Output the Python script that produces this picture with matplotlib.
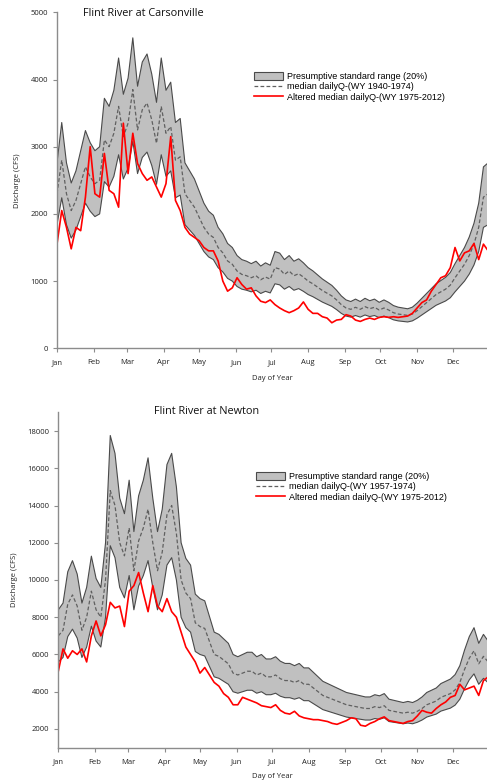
import numpy as np
import matplotlib.pyplot as plt
from matplotlib.patches import Patch
from matplotlib.lines import Line2D

plt.rcParams.update(
    {
        "font.family": ["Open Sans", "DejaVu Sans"],
        "xtick.labelsize": 5.5,
        "ytick.labelsize": 5.5,
    }
)

# --- data (values read every 4th day of year) ---
days = np.arange(1, 366, 4)

month_starts = [1, 32, 60, 91, 121, 152, 182, 213, 244, 274, 305, 335]
month_labels = ["Jan", "Feb", "Mar", "Apr", "May", "Jun",
                "Jul", "Aug", "Sep", "Oct", "Nov", "Dec"]

range_pct = 0.20

carson_median = [
    2300, 2800, 2300, 2050, 2200, 2450, 2700, 2550, 2450, 2500,
    3100, 3000, 3200, 3600, 3150, 3350, 3850, 3250, 3550, 3650,
    3400, 3050, 3600, 3200, 3300, 2800, 2850, 2300, 2200, 2100,
    1950, 1800, 1700, 1650, 1500, 1420, 1300, 1250, 1150, 1100,
    1080, 1050, 1080, 1020, 1060, 1030, 1200, 1180, 1100, 1150,
    1080, 1110, 1060, 1000, 960, 910, 860, 820, 780, 720,
    650, 600, 580, 610, 580, 620, 590, 610, 570, 600,
    570, 530, 510, 500, 490, 510, 560, 620, 680, 740,
    800, 840, 880, 940, 1050, 1150, 1250, 1380, 1550, 1800,
    2250, 2300,
]
carson_altered = [
    1550, 2050, 1800, 1480, 1800, 1750, 2250, 3000, 2300, 2250,
    2900, 2350, 2300, 2100, 3350, 2600, 3200, 2750, 2600, 2500,
    2550, 2400, 2250, 2450, 3150, 2200, 2050, 1800, 1700, 1650,
    1600, 1500, 1450, 1450, 1300, 1000, 850, 900, 1050, 950,
    880, 900, 780, 700, 680, 720, 650, 600, 560, 530,
    560, 600, 690, 580, 520, 520, 470, 450, 380, 420,
    430, 500, 480, 420, 400, 430, 450, 430, 460, 470,
    460, 470, 460, 470, 480, 520, 600, 680, 720, 850,
    950, 1050, 1080, 1200, 1500, 1300, 1420, 1450, 1560, 1320,
    1550, 1450,
]

newton_median = [
    7000, 7300, 8700, 9200, 8600, 7300, 8000, 9400, 8400, 8000,
    10000, 14800, 14000, 12000, 11300, 12800, 10500, 12100, 12800, 13800,
    12000, 10500, 11500, 13500, 14000, 12500, 10000, 9300, 9000, 7700,
    7500, 7400, 6700, 6000, 5900, 5700, 5500, 5000, 4900, 5000,
    5100, 5100, 4900, 5000, 4800, 4800, 4900, 4700, 4600, 4600,
    4500, 4600, 4400, 4400, 4200, 4000, 3800, 3700, 3600, 3500,
    3400, 3300, 3250, 3200, 3150, 3100, 3100, 3200, 3150, 3250,
    3000, 2950, 2900, 2850, 2900, 2850, 2950, 3100, 3300, 3400,
    3500, 3700, 3800, 3900, 4100, 4500, 5200, 5800, 6200, 5500,
    5900, 5600,
]
newton_altered = [
    5100, 6300, 5800, 6200, 6000, 6300, 5600, 7000, 7800, 7000,
    7600, 8800, 8500, 8600, 7500, 9400, 9700, 10400, 9300, 8300,
    9700, 8600, 8300, 9000, 8300, 8000, 7200, 6400, 6000, 5600,
    5000, 5300, 4900, 4500, 4300, 3900, 3700, 3300, 3300, 3700,
    3600, 3500, 3400, 3250, 3200, 3150, 3300, 3000, 2850, 2800,
    2950, 2700, 2600, 2550, 2500, 2500, 2450, 2400, 2300, 2250,
    2350, 2450, 2600, 2550, 2200, 2150, 2300, 2400, 2550, 2650,
    2450, 2400, 2350, 2300, 2400, 2450, 2700, 3000, 2900, 2850,
    3100, 3300, 3450, 3700, 3800, 4400, 4100, 4200, 4300, 3800,
    4600, 4800,
]

W, H = 487, 783
fig = plt.figure(figsize=(W / 100, H / 100), dpi=100)

band_face = "#c0c0c0"
band_edge = "#4a4a4a"
spine_col = "#8c8c8c"


def panel(rect, median, altered, period, ylim, yticks, title, title_xy, label_y,
          legend_xy):
    ax = fig.add_axes(rect)
    med = np.array(median, dtype=float)
    lo = med * (1 - range_pct)
    hi = med * (1 + range_pct)
    ax.fill_between(days, lo, hi, facecolor=band_face, edgecolor="none")
    ax.plot(days, lo, color=band_edge, lw=0.8)
    ax.plot(days, hi, color=band_edge, lw=0.8)
    ax.plot(days, med, color="#606060", lw=0.9, dashes=(3, 1.8))
    ax.plot(days, altered, color="#ff0000", lw=1.2)

    ax.set_xlim(1, 364)
    ax.set_ylim(*ylim)
    ax.set_xticks(month_starts)
    ax.set_xticklabels(month_labels)
    ax.set_yticks(yticks)
    for s in ["top", "right"]:
        ax.spines[s].set_visible(False)
    for s in ["left", "bottom"]:
        ax.spines[s].set_color(spine_col)
        ax.spines[s].set_linewidth(1.0)
    ax.tick_params(axis="both", colors=spine_col, labelcolor="#222222",
                   length=3, width=0.8)
    ax.tick_params(axis="x", pad=5)

    fig.text(title_xy[0] / W, 1 - title_xy[1] / H, title, fontsize=7.8,
             ha="center", va="center", color="#111111")
    fig.text(272 / W, 1 - label_y / H, "Day of Year", fontsize=5.5,
             ha="center", va="center", color="#222222")
    ax.set_ylabel("Discharge (CFS)", fontsize=5.5, color="#222222", labelpad=7)

    handles = [
        Patch(facecolor=band_face, edgecolor=band_edge, linewidth=0.8),
        Line2D([], [], color="#606060", lw=0.9, dashes=(3, 1.8)),
        Line2D([], [], color="#ff0000", lw=1.2),
    ]
    labels = [
        "Presumptive standard range (20%)",
        "median dailyQ-(WY %s)" % period,
        "Altered median dailyQ-(WY 1975-2012)",
    ]
    ax.legend(handles, labels, loc="upper left",
              bbox_to_anchor=(legend_xy[0] / W, 1 - legend_xy[1] / H),
              bbox_transform=fig.transFigure, frameon=False,
              prop={"family": "Liberation Sans", "size": 6.5},
              handlelength=3.2, handleheight=0.9, handletextpad=0.5,
              labelspacing=0.15, borderpad=0, borderaxespad=0)
    return ax


# top panel: Carsonville
panel([57 / W, 1 - 348.3 / H, (487 - 57) / W, 336 / H],
      carson_median, carson_altered, "1940-1974",
      (0, 5000), [0, 1000, 2000, 3000, 4000, 5000],
      "Flint River at Carsonville", (143, 14), 378, (254, 72))

# bottom panel: Newton
panel([58.3 / W, 1 - 747.6 / H, (487 - 58.3) / W, 335.2 / H],
      newton_median, newton_altered, "1957-1974",
      (1000, 19000), list(range(2000, 18001, 2000)),
      "Flint River at Newton", (207, 412), 777, (256, 472))

fig.savefig("out.png", dpi=100)
